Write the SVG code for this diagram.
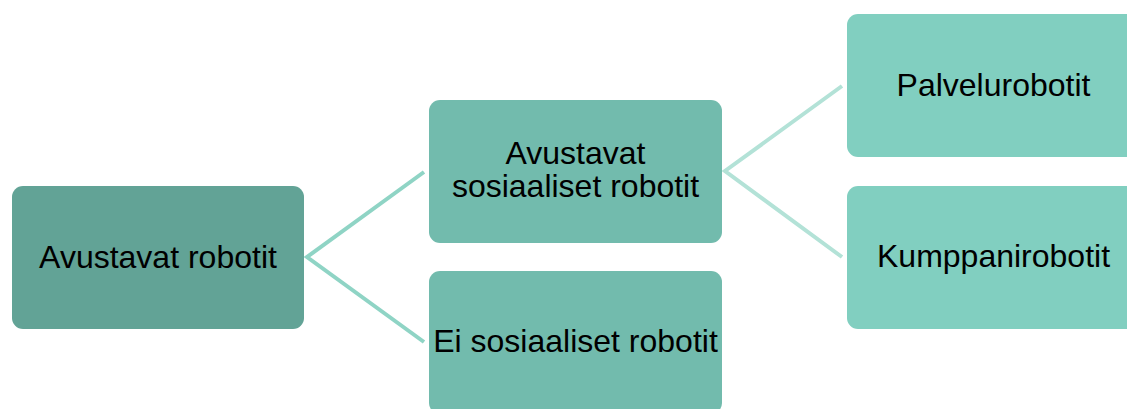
<svg xmlns="http://www.w3.org/2000/svg" width="1127" height="409" viewBox="0 0 1127 409">
  <style>
    .box { stroke: none; }
    .l1 { fill: #62a396; }
    .l2 { fill: #72bbad; }
    .l3 { fill: #81cfc0; }
    .lbl { font-family: "Liberation Sans", Arial, sans-serif; font-size: 32px; fill: #000; text-anchor: middle; }
    .c1 { stroke: #8fd4c5; stroke-width: 4; fill: none; }
    .c2 { stroke: #b3e2d7; stroke-width: 4; fill: none; }
  </style>
  <rect width="1127" height="409" fill="#ffffff"/>
  <g id="connectors">
    <polyline class="c1" points="424,172 307,257 424,342"/>
    <polyline class="c2" points="842,86 725,171 842,257"/>
  </g>
  <g id="node-avustavat-robotit">
    <rect class="box l1" x="12" y="186" width="292" height="143" rx="11"/>
    <text class="lbl" x="158" y="268">Avustavat robotit</text>
  </g>
  <g id="node-avustavat-sosiaaliset">
    <rect class="box l2" x="429" y="100" width="293" height="143" rx="11"/>
    <text class="lbl" x="575.5" y="164">Avustavat</text>
    <text class="lbl" x="575.5" y="197">sosiaaliset robotit</text>
  </g>
  <g id="node-ei-sosiaaliset">
    <rect class="box l2" x="429" y="271" width="293" height="143" rx="11"/>
    <text class="lbl" x="575.5" y="352">Ei sosiaaliset robotit</text>
  </g>
  <g id="node-palvelurobotit">
    <rect class="box l3" x="847" y="14" width="293" height="143" rx="11"/>
    <text class="lbl" x="993.5" y="96">Palvelurobotit</text>
  </g>
  <g id="node-kumppanirobotit">
    <rect class="box l3" x="847" y="186" width="293" height="143" rx="11"/>
    <text class="lbl" x="993.5" y="267">Kumppanirobotit</text>
  </g>
</svg>
